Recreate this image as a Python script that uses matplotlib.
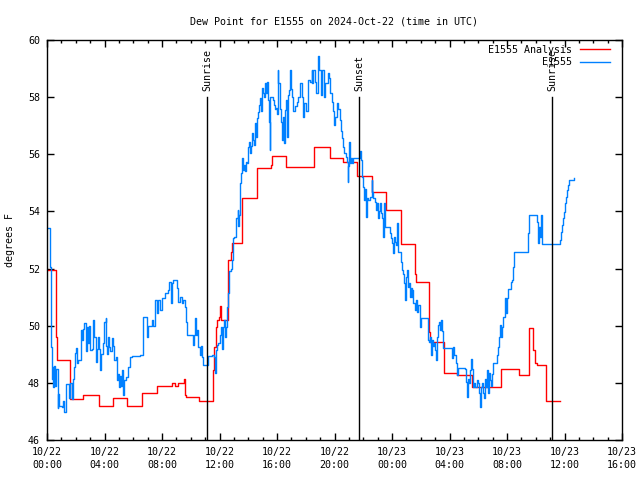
import matplotlib.pyplot as plt

plt.rcParams['font.family'] = 'DejaVu Sans Mono'
plt.rcParams['font.size'] = 7.2

title = "Dew Point for E1555 on 2024-Oct-22 (time in UTC)"

# minutes after 10/22 00:00 UTC, dew point in F
analysis = [
    (0, 51.95), (30, 51.95), (36, 51.1), (38, 49.6), (40, 48.8), (93, 48.8),
    (96, 47.87), (97, 47.43), (147, 47.43), (150, 47.57), (214, 47.57),
    (217, 47.19), (274, 47.19), (277, 47.46), (333, 47.46), (335, 47.19),
    (395, 47.19), (398, 47.63), (458, 47.63), (460, 47.89), (509, 47.89),
    (520, 47.98), (530, 47.98), (534, 47.9), (543, 47.9), (547, 47.98),
    (570, 47.98), (573, 48.12), (576, 47.57), (580, 47.52), (632, 47.52),
    (634, 47.38), (687, 47.38), (692, 48.45), (698, 49.27), (704, 49.97),
    (710, 50.2), (716, 50.3), (722, 50.69), (726, 50.2), (754, 50.2),
    (757, 52.3), (764, 52.3), (768, 52.59), (772, 52.88), (813, 52.88),
    (815, 54.46), (875, 54.46), (878, 55.51), (931, 55.51), (935, 55.63),
    (939, 55.95), (993, 55.95), (998, 55.57), (1112, 55.57), (1114, 56.27),
    (1177, 56.27), (1181, 55.88), (1233, 55.88), (1235, 55.74), (1293, 55.74),
    (1295, 55.24), (1355, 55.24), (1358, 54.67), (1411, 54.67), (1414, 54.05),
    (1473, 54.05), (1478, 52.86), (1533, 52.86), (1536, 51.8), (1540, 51.52),
    (1592, 51.52), (1594, 49.79), (1599, 49.42), (1654, 49.42), (1657, 48.33),
    (1710, 48.33), (1712, 48.27), (1773, 48.27), (1775, 47.87), (1891, 47.87),
    (1894, 48.47), (1967, 48.47), (1970, 48.27), (2009, 48.27), (2013, 49.91),
    (2020, 49.91), (2029, 49.15), (2037, 48.68), (2045, 48.62), (2079, 48.62),
    (2082, 47.69), (2084, 47.38), (2141, 47.38),
]

station = [
    (0, 53.41), (8, 53.41), (11, 53.0), (13, 52.07), (15, 51.25), (18, 49.27),
    (21, 48.15), (23, 48.57), (26, 47.87), (29, 48.6), (33, 47.9), (38, 48.5),
    (45, 47.12), (47, 47.6), (50, 47.2), (61, 47.17), (67, 47.35), (71, 46.99),
    (78, 47.95), (88, 47.95), (92, 47.47), (98, 48.0), (103, 47.44), (109, 48.12),
    (113, 48.57), (117, 49.03), (121, 49.21), (125, 48.68), (129, 48.8),
    (141, 49.85), (146, 49.5), (150, 49.9), (154, 50.1), (163, 49.1), (167, 49.97),
    (171, 49.4), (175, 50.0), (179, 49.15), (188, 49.2), (192, 50.2), (196, 49.6),
    (205, 48.74), (209, 49.2), (213, 49.6), (217, 49.2), (221, 48.45), (225, 49.0),
    (234, 49.4), (238, 50.14), (245, 50.26), (246, 49.3), (250, 49.0), (255, 49.6),
    (259, 49.27), (263, 49.1), (271, 49.56), (275, 49.3), (280, 48.8), (288, 48.9),
    (292, 48.1), (296, 48.3), (301, 47.87), (305, 48.25), (309, 47.9), (313, 48.45),
    (317, 47.57), (321, 48.1), (330, 48.22), (338, 48.57), (346, 48.92),
    (355, 48.95), (380, 48.95), (388, 48.97), (402, 50.3), (409, 50.32),
    (416, 49.62), (422, 50.0), (437, 50.2), (442, 50.0), (451, 50.9), (458, 50.43),
    (465, 50.9), (472, 50.55), (479, 50.96), (485, 50.96), (493, 51.13),
    (504, 51.25), (509, 51.54), (518, 50.8), (522, 51.5), (527, 51.6), (534, 51.6),
    (541, 51.31), (546, 51.08), (548, 50.84), (555, 51.0), (562, 50.78),
    (569, 50.9), (576, 50.67), (579, 50.14), (583, 49.67), (604, 49.67),
    (608, 49.33), (614, 49.67), (618, 50.26), (621, 49.67), (625, 49.85),
    (629, 49.4), (632, 49.27), (639, 48.97), (643, 49.3), (647, 48.9), (652, 48.63),
    (667, 48.63), (673, 48.94), (687, 48.97), (697, 48.9), (701, 48.33),
    (705, 49.15), (710, 49.33), (715, 49.38), (722, 49.67), (726, 49.97),
    (729, 49.2), (733, 49.97), (739, 50.2), (743, 49.6), (747, 49.97), (750, 50.67),
    (757, 51.13), (761, 51.9), (767, 52.0), (771, 52.3), (775, 53.06), (782, 53.12),
    (789, 53.76), (796, 54.05), (798, 53.5), (801, 53.88), (806, 54.98),
    (810, 55.33), (814, 55.86), (818, 55.45), (822, 55.63), (826, 55.4),
    (831, 55.74), (835, 55.7), (839, 56.27), (843, 56.44), (847, 56.03),
    (851, 56.3), (856, 56.73), (860, 56.5), (864, 56.33), (868, 57.08), (872, 56.6),
    (877, 57.26), (881, 57.49), (885, 57.73), (889, 57.96), (893, 57.5),
    (898, 58.31), (902, 58.13), (906, 58.02), (910, 58.48), (914, 58.13),
    (918, 58.54), (923, 57.9), (927, 57.14), (929, 56.15), (931, 58.0), (935, 58.0),
    (943, 57.9), (947, 57.72), (952, 57.6), (956, 57.61), (960, 57.4), (963, 58.95),
    (966, 58.48), (973, 57.6), (977, 57.14), (981, 56.5), (985, 57.32), (989, 56.4),
    (993, 57.55), (998, 57.9), (1000, 56.62), (1004, 58.07), (1010, 58.25),
    (1014, 58.95), (1018, 58.3), (1021, 58.0), (1028, 57.5), (1035, 57.7),
    (1042, 57.84), (1049, 58.0), (1056, 58.48), (1063, 58.0), (1069, 57.3),
    (1074, 57.8), (1080, 57.5), (1088, 58.37), (1091, 58.6), (1098, 58.54),
    (1105, 58.95), (1107, 58.48), (1112, 58.95), (1119, 58.54), (1122, 58.13),
    (1130, 58.48), (1132, 59.44), (1137, 58.95), (1142, 58.07), (1147, 58.95),
    (1153, 58.95), (1156, 58.0), (1160, 58.48), (1167, 58.5), (1172, 58.83),
    (1177, 58.66), (1181, 58.13), (1188, 57.84), (1195, 57.5), (1199, 57.03),
    (1202, 57.32), (1209, 57.78), (1216, 57.6), (1223, 57.2), (1227, 56.8),
    (1233, 56.56), (1237, 56.27), (1241, 56.03), (1247, 55.92), (1251, 55.74),
    (1255, 55.04), (1257, 55.6), (1260, 56.44), (1265, 55.68), (1269, 55.86),
    (1273, 55.7), (1277, 55.86), (1304, 55.86), (1306, 56.1), (1311, 55.8),
    (1315, 55.22), (1319, 54.87), (1323, 54.4), (1327, 54.8), (1331, 53.79),
    (1336, 54.46), (1340, 54.4), (1348, 54.5), (1355, 55.1), (1357, 54.69),
    (1361, 54.46), (1369, 54.34), (1373, 54.05), (1377, 54.3), (1382, 53.76),
    (1386, 54.0), (1390, 54.3), (1394, 53.93), (1398, 53.76), (1403, 53.12),
    (1408, 54.3), (1411, 53.47), (1432, 53.23), (1436, 53.06), (1440, 52.88),
    (1444, 52.53), (1448, 53.1), (1453, 52.94), (1457, 52.82), (1460, 53.58),
    (1465, 52.59), (1478, 52.24), (1482, 51.95), (1486, 51.8), (1490, 51.48),
    (1494, 50.9), (1499, 51.72), (1504, 51.95), (1507, 51.34), (1511, 51.5),
    (1515, 51.02), (1519, 51.31), (1522, 51.02), (1523, 51.25), (1528, 50.78),
    (1532, 50.8), (1536, 50.55), (1540, 50.9), (1546, 50.49), (1549, 50.72),
    (1557, 49.97), (1561, 50.26), (1587, 50.26), (1589, 49.79), (1590, 49.5),
    (1594, 49.44), (1599, 49.6), (1603, 48.97), (1607, 49.5), (1611, 49.3),
    (1615, 49.4), (1620, 49.15), (1624, 48.8), (1628, 49.62), (1632, 50.03),
    (1636, 50.14), (1640, 49.85), (1645, 50.2), (1649, 49.8), (1653, 49.21),
    (1689, 49.21), (1691, 48.86), (1696, 49.27), (1699, 48.97), (1707, 48.68),
    (1711, 48.27), (1716, 48.51), (1745, 48.5), (1749, 48.04), (1752, 47.52),
    (1757, 48.15), (1761, 48.0), (1766, 48.45), (1769, 48.82), (1774, 48.5),
    (1778, 47.87), (1782, 48.0), (1786, 47.87), (1795, 48.1), (1799, 48.0),
    (1803, 47.63), (1809, 47.17), (1813, 47.87), (1816, 48.0), (1820, 47.63),
    (1825, 47.46), (1828, 48.15), (1832, 47.87), (1835, 48.45), (1841, 47.63),
    (1845, 48.33), (1849, 48.1), (1853, 47.9), (1858, 48.3), (1862, 48.68),
    (1870, 48.7), (1877, 48.97), (1884, 49.27), (1888, 49.62), (1891, 50.03),
    (1894, 49.62), (1898, 49.97), (1902, 50.32), (1908, 50.32), (1912, 50.96),
    (1916, 50.43), (1919, 50.96), (1926, 51.27), (1933, 51.3), (1937, 51.54),
    (1942, 51.6), (1946, 52.07), (1949, 52.59), (2006, 52.59), (2008, 53.23),
    (2012, 53.88), (2044, 53.88), (2045, 53.64), (2051, 52.88), (2054, 53.47),
    (2058, 53.12), (2061, 53.88), (2066, 52.85), (2139, 52.85), (2141, 53.0),
    (2145, 53.29), (2150, 53.53), (2154, 53.76), (2158, 53.99), (2162, 54.28),
    (2166, 54.52), (2170, 54.75), (2175, 54.92), (2179, 55.1), (2201, 55.16),
]

sun_events = ["Sunrise", "Sunset", "Sunrise"]
sun_minutes = [669, 1304, 2109]

tick_hours = list(range(0, 41, 4))
tick_labels = ["10/22\n00:00", "10/22\n04:00", "10/22\n08:00", "10/22\n12:00",
               "10/22\n16:00", "10/22\n20:00", "10/23\n00:00", "10/23\n04:00",
               "10/23\n08:00", "10/23\n12:00", "10/23\n16:00"]


fig = plt.figure(figsize=(6.4, 4.8), dpi=100)
ax = fig.add_axes([47 / 640, 40 / 480, 575 / 640, 400 / 480])

a_t, a_v = zip(*analysis)
s_t, s_v = zip(*station)
ax.plot([t / 60 for t in a_t], a_v, color='#ff0000', lw=1.0,
        drawstyle='steps-post', label='E1555 Analysis')
ax.plot([t / 60 for t in s_t], s_v, color='#0080ff', lw=1.0,
        drawstyle='steps-post', label='E1555')

# sunrise / sunset markers
for name, m in zip(sun_events, sun_minutes):
    ax.plot([m / 60, m / 60], [46, 58], color='black', lw=1.0)
    ax.text(m / 60, 58.2, name, rotation=90, ha='center', va='bottom')

ax.set_xlim(0, 40)
ax.set_ylim(46, 60)
ax.set_xticks(tick_hours)
ax.set_xticklabels(tick_labels)
for lab in ax.get_xticklabels():
    lab.set_linespacing(1.4)
ax.set_xticks(range(0, 41), minor=True)
ax.set_yticks(range(46, 61, 2))

ax.tick_params(which='both', direction='in', top=True, right=True, width=1)
ax.tick_params(which='major', length=5)
ax.tick_params(which='minor', length=2.5)
ax.tick_params(axis='x', pad=5)
ax.tick_params(axis='y', pad=5)
for sp in ax.spines.values():
    sp.set_linewidth(1)

ax.set_ylabel("degrees F")
ax.yaxis.set_label_coords(-0.055, 0.5)
ax.set_title(title, pad=11, fontsize=7.2)

ax.legend(loc='upper right', bbox_to_anchor=(0.9826, 0.9925), frameon=False,
          markerfirst=False, handlelength=3, handletextpad=0.8,
          borderaxespad=0, borderpad=0.2, labelspacing=0.25)

fig.savefig('out.png', dpi=100)
